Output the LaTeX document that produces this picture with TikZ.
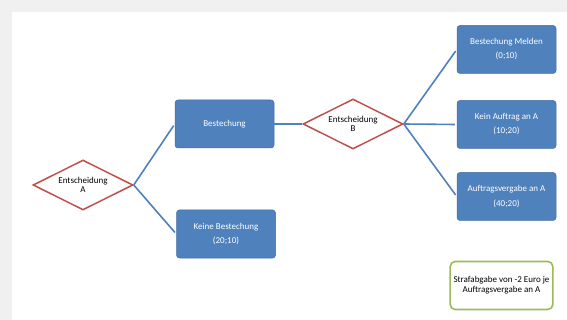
\documentclass[tikz,border=0pt]{standalone}
\usepackage{fontspec}
\setmainfont{Carlito}
\usetikzlibrary{shapes.geometric}

\definecolor{boxblue}{HTML}{4F81BD}
\definecolor{choicered}{HTML}{C0504D}
\definecolor{notegreen}{HTML}{9BBB59}
\definecolor{pagegray}{HTML}{F0F0F0}

\tikzset{
	choice/.style={diamond, draw=choicered, line width=1.5pt, fill=white, aspect=2,
		minimum width=100pt, minimum height=50pt, inner sep=0pt, align=center,
		font=\fontsize{9}{9.5}\selectfont},
	outcome/.style={rectangle, rounded corners=3pt, fill=boxblue, draw=boxblue!85!black,
		line width=0.5pt, minimum width=99pt, minimum height=48pt, align=center,
		text=white, font=\fontsize{9}{10}\selectfont},
	note/.style={rectangle, rounded corners=5pt, draw=notegreen, line width=1.6pt,
		minimum width=100pt, minimum height=48pt, align=center,
		font=\fontsize{9}{10}\selectfont},
	branch/.style={draw=boxblue, line width=1.6pt}
}

\begin{document}
	\begin{tikzpicture}[x=1pt, y=-1pt]
		\useasboundingbox (0, 0) rectangle (567, 320);
		\fill [pagegray] (0, 0) rectangle (567, 320);
		\fill [white] (12, 12) rectangle (567, 320);

		\begin{scope}
			\node [choice] (entA) at (83, 185) {Entscheidung\\A};
			\node [outcome] (best) at (224.5, 124) {Bestechung};
			\node [outcome] (keine) at (226, 234) {Keine Bestechung\\[4pt](20;10)};
			\node [choice] (entB) at (353, 124) {Entscheidung\\B};
			\node [outcome] (melden) at (506.5, 49.5) {Bestechung Melden\\[4pt](0;10)};
			\node [outcome] (kein) at (506.5, 124.5) {Kein Auftrag an A\\[4pt](10;20)};
			\node [outcome] (vergabe) at (506.5, 196.5) {Auftragsvergabe an A\\[4pt](40;20)};
			\node [note] (strafe) at (501.5, 285.5) {Strafabgabe von -2 Euro je\\Auftragsvergabe an A};
		\end{scope}

		\draw [branch, shorten >=2pt] (entA.east) -- (best.west);
		\draw [branch, shorten >=2pt] (entA.east) -- (keine.west);
		\draw [branch] (best.east) -- (entB.west);
		\draw [branch, shorten >=2pt] (entB.east) -- (melden.west);
		\draw [branch, shorten >=2pt] (entB.east) -- (kein.west);
		\draw [branch, shorten >=2pt] (entB.east) -- (vergabe.west);
	\end{tikzpicture}
\end{document}
